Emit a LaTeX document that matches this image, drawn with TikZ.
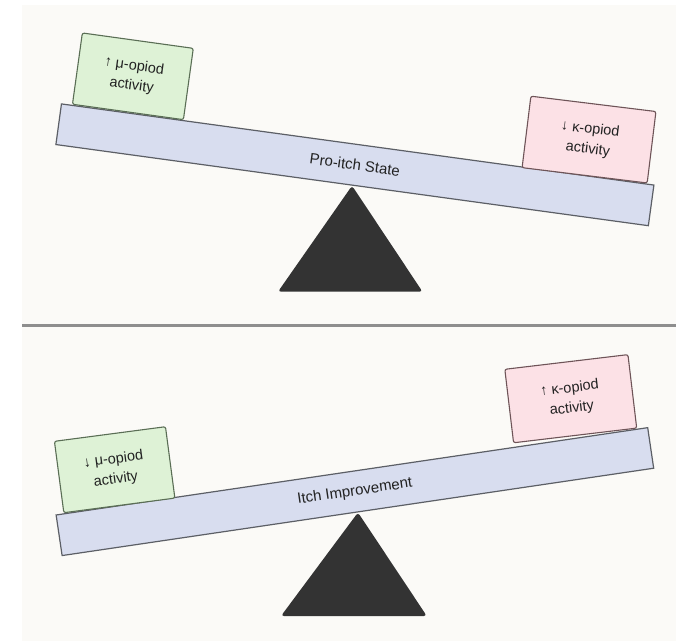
\documentclass[tikz,border=0pt]{standalone}
\usepackage{fontspec}
\setmainfont{Liberation Sans}
\usetikzlibrary{calc}

\definecolor{panelbg}{HTML}{FBFAF7}
\definecolor{sepline}{HTML}{8E8E8E}
\definecolor{plankfill}{HTML}{D8DDEF}
\definecolor{plankline}{HTML}{5C5F66}
\definecolor{mufill}{HTML}{DEF2D6}
\definecolor{muline}{HTML}{5A6E55}
\definecolor{kappafill}{HTML}{FCE1E6}
\definecolor{kappaline}{HTML}{6E5458}
\definecolor{pivotfill}{HTML}{333333}
\definecolor{labeltext}{HTML}{222222}

\begin{document}
\begin{tikzpicture}[x=1pt, y=-1pt,
  plank/.style={draw=plankline, fill=plankfill, line width=1.2pt, minimum width=598pt,
    minimum height=41pt, inner sep=0pt, text=labeltext, font=\fontsize{15}{18}\selectfont},
  mubox/.style={draw=muline, fill=mufill, line width=1.1pt, rounded corners=2pt,
    minimum width=112pt, minimum height=72pt, inner sep=0pt, align=center,
    text=labeltext, font=\fontsize{14.5}{20}\selectfont},
  kappabox/.style={mubox, draw=kappaline, fill=kappafill},
  pivot/.style={fill=pivotfill, rounded corners=3pt}]
\useasboundingbox (0,0) rectangle (676,641);
\fill[white] (0,0) rectangle (676,641);
\fill[panelbg] (21.5,5) rectangle (676,325);
\fill[panelbg] (21.5,327) rectangle (676,641);
\draw[sepline, line width=2.5pt] (22,325.5) -- (676,325.5);

% top: pro-itch state
\node[plank, rotate=-7.8] (topbeam) at (354.9,164.8) {Pro-itch State};
\node[mubox, rotate=-7.9, anchor=south west] (mutop)
  at ($(topbeam.north west)!11pt!(topbeam.north east)$) {↑ μ-opiod\\activity};
\node[kappabox, rotate=-7.0, minimum width=126pt, anchor=south east] (kappatop)
  at ($(topbeam.north east)!7pt!(topbeam.north west)$) {↓ κ-opiod\\activity};
\fill[pivot] (topbeam.south) -- (422.5,291.7) -- (278,291.7) -- cycle;

% bottom: itch improvement
\node[plank, rotate=8.4] (botbeam) at (354.9,491.6) {Itch Improvement};
\node[mubox, rotate=7.5, anchor=south west] (mubot)
  at ($(botbeam.north west)!8pt!(botbeam.north east)$) {↓ μ-opiod\\activity};
\node[kappabox, rotate=6.8, minimum width=124pt, minimum height=74pt, anchor=south east] (kappabot)
  at ($(botbeam.north east)!11pt!(botbeam.north west)$) {↑ κ-opiod\\activity};
\fill[pivot] (botbeam.south) -- (426.8,616) -- (281,616) -- cycle;
\end{tikzpicture}
\end{document}
